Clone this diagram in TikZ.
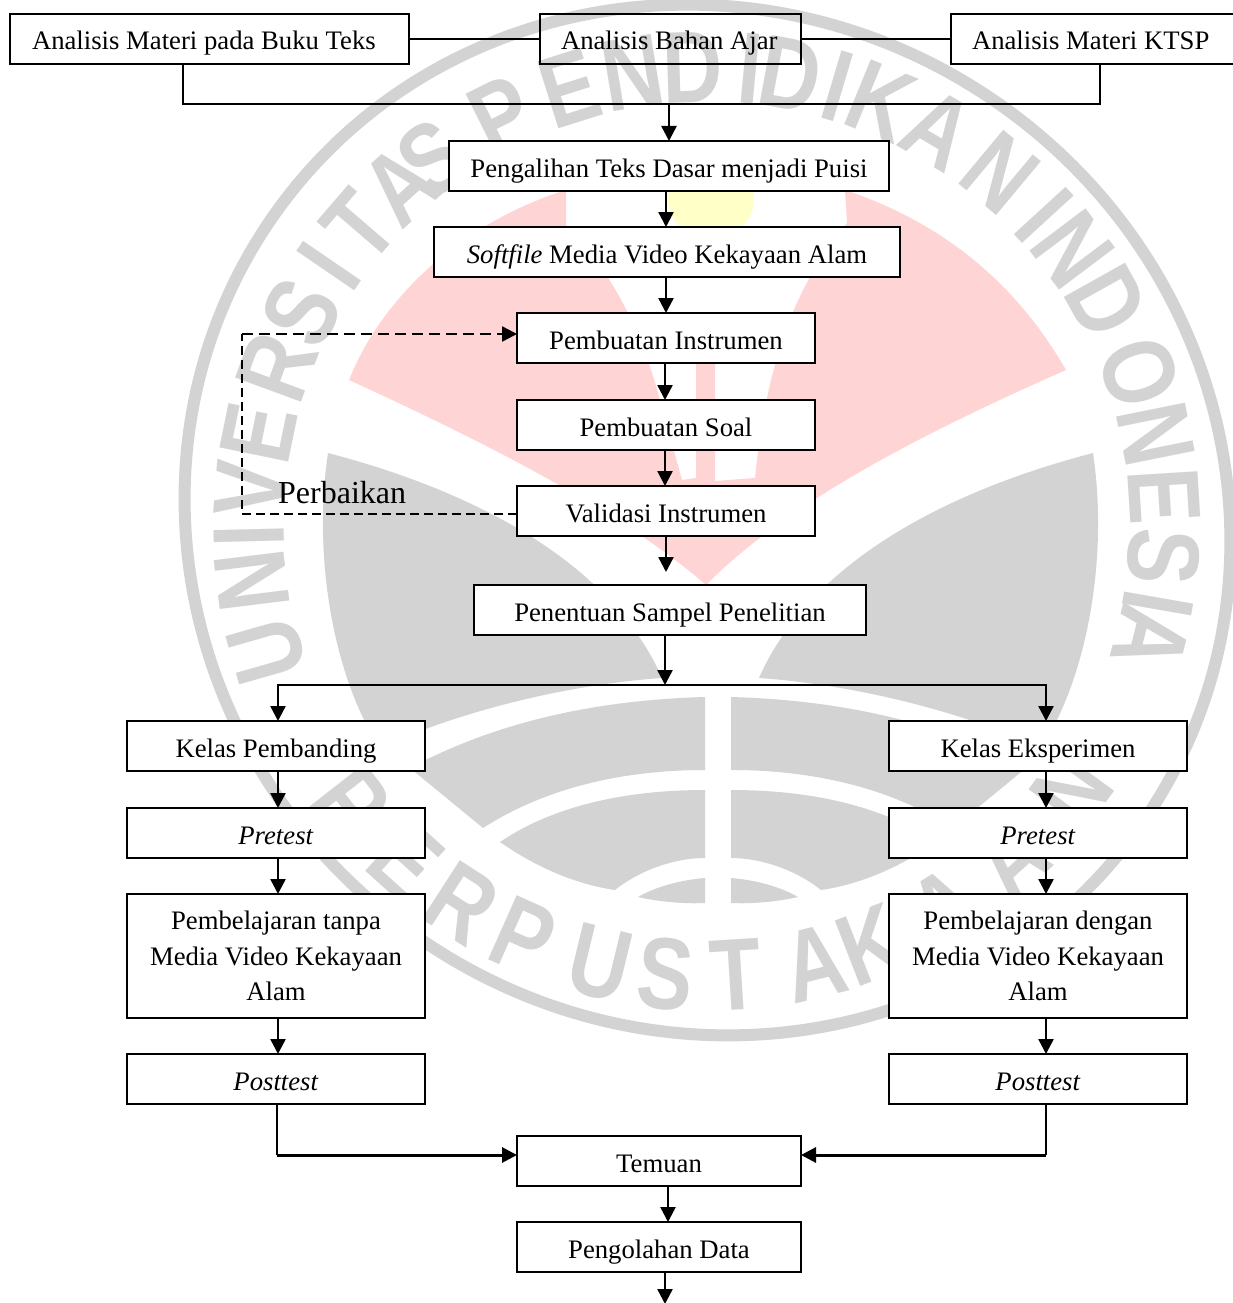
\documentclass[tikz,border=0pt]{standalone}
\usepackage{fontspec}
\usepackage{tikz}
\usetikzlibrary{positioning, arrows, arrows.meta}
\setmainfont{Liberation Serif}
\newfontfamily\wmfont[FakeStretch=0.82]{Liberation Sans}
\newcommand{\boxfont}{\fontsize{26.7}{35.5}\selectfont}

% logo outlines
\newcommand{\leafpath}{(328,453) .. controls (470,490) and (610,560) .. (662,678) .. controls (560,685) and (450,715) .. (380,748) .. controls (335,680) and (312,560) .. (328,453) -- cycle}
\newcommand{\tierA}{(705,697) .. controls (600,700) and (500,720) .. (410,768) -- (483,828) .. controls (550,785) and (630,770) .. (705,770) -- cycle}
\newcommand{\tierB}{(705,790) .. controls (620,790) and (550,808) .. (500,842) .. controls (540,870) and (580,885) .. (615,890) .. controls (640,870) and (675,858) .. (705,858) -- cycle}
\newcommand{\tierC}{(705,878) .. controls (680,880) and (655,887) .. (638,897) .. controls (660,902) and (685,904) .. (705,903) -- cycle}

\definecolor{wmgray}{HTML}{D3D3D3}
\definecolor{wmpink}{HTML}{FFD4D4}
\definecolor{wmyellow}{HTML}{FFFFC8}

\tikzset{
	kotak/.style={draw, fill=white, line width=2pt, inner sep=0pt, outer sep=0pt, font=\boxfont},
	box/.style={kotak, text height=36pt, text depth=14pt},
	sidebox/.style={box, minimum width=298pt},
	bigbox/.style={kotak, minimum width=298pt, minimum height=124pt, align=center},
	conn/.style={line width=2.4pt},
	arr/.style={conn, -{Triangle[length=15pt,width=15pt]}},
	wmletter/.style={text=wmgray, inner sep=0pt, font=\wmfont\bfseries\fontsize{102}{102}\selectfont}
}

\begin{document}
\begin{tikzpicture}[x=1pt, y=-1pt, node distance=36pt]
	\useasboundingbox (0,0) rectangle (1232,1303);

	% Logo
	\fill[wmyellow] (711,200) ellipse [x radius=43, y radius=38];
	\fill[wmpink] (566,190) .. controls (470,220) and (385,290) .. (349,380)
		.. controls (480,440) and (620,510) .. (706,585)
		.. controls (790,500) and (930,430) .. (1066,370)
		.. controls (1020,290) and (950,225) .. (845,190)
		-- (847,223) .. controls (810,270) and (770,330) .. (755,478)
		-- (715,481) -- (715,350) -- (696,350) -- (696,478) -- (682,480)
		-- (660,400) .. controls (645,345) and (620,280) .. (566,225) -- cycle;
	\fill[wmgray] \leafpath;
	\fill[wmgray, xscale=-1, xshift=-1421pt] \leafpath;
	\foreach \tier in {\tierA, \tierB, \tierC} {
		\fill[wmgray] \tier;
		\fill[wmgray, xscale=-1, xshift=-1436pt] \tier;
	}
	\draw[wmgray, line width=12pt, rotate around={-35:(707.5,520)}] (707.5,520) ellipse [x radius=530pt, y radius=508pt];
	\begin{scope}[shift={(707,525)}]
		\foreach \ch/\ang [count=\i] in {U/195.9, N/187, I/181.4, V/175.5, E/168.4, R/159.8, S/152.3, I/145.6, T/139.3, A/132.1, S/126.8,
			P/116.6, E/107.5, N/99.4, D/91.8, I/84.6, D/79.5, I/73.4, K/67.7, A/59.6, N/50.2,
			I/42.5, N/37, D/29.2, O/19.4, N/11.4, E/3.6, S/-4, I/-9.9, A/-14.3}
			\node[wmletter, rotate=\ang-90] (atas\i) at (\ang:458pt) {\ch};
		\foreach \ch/\ang [count=\i] in {P/-142, E/-132, R/-122.9, P/-114, U/-103.7, S/-95.3, T/-86.4, A/-76.2, K/-68.7, A/-58, A/-47.7, N/-36}
			\node[wmletter, rotate=\ang+90] (bawah\i) at (\ang:451pt) {\ch};
	\end{scope}

	% Nodes
	\node (bukuteks) [box, minimum width=399pt] at (209.5,39) {\makebox[355pt][l]{Analisis Materi pada Buku Teks}};
	\node (bahanajar) [box, minimum width=261pt, fill=none] at (670.5,39) {\makebox[219pt][l]{Analisis Bahan Ajar}};
	\node (ktsp) [box, minimum width=285pt] at (1093.5,39) {\makebox[243pt][l]{Analisis Materi KTSP}};
	\node (pengalihan) [box, minimum width=440pt] at (669,166) {Pengalihan Teks Dasar menjadi Puisi};
	\node (softfile) [box, minimum width=466pt] at (667,252) {\textit{Softfile} Media Video Kekayaan Alam};
	\node (instrumen) [box, minimum width=298pt] at (666,338) {Pembuatan Instrumen};
	\node (soal) [box, minimum width=298pt, below=37pt of instrumen] {Pembuatan Soal};
	\node (validasi) [box, minimum width=298pt, below=of soal] {Validasi Instrumen};
	\node (sampel) [box, minimum width=392pt] at (670,610) {Penentuan Sampel Penelitian};
	\node (perbaikan) [anchor=base west, inner sep=0pt, font=\fontsize{32}{32}\selectfont] at (278,503) {Perbaikan};

	\node (kelaskiri) [sidebox] at (276,746) {Kelas Pembanding};
	\node (pretestkiri) [sidebox, below=37pt of kelaskiri] {\textit{Pretest}};
	\node (ajarkiri) [bigbox, below=of pretestkiri] {Pembelajaran tanpa\\Media Video Kekayaan\\Alam};
	\node (posttestkiri) [sidebox, below=of ajarkiri] {\textit{Posttest}};

	\node (kelaskanan) [sidebox] at (1038,746) {Kelas Eksperimen};
	\node (pretestkanan) [sidebox, below=37pt of kelaskanan] {\textit{Pretest}};
	\node (ajarkanan) [bigbox, below=of pretestkanan] {Pembelajaran dengan\\Media Video Kekayaan\\Alam};
	\node (posttestkanan) [sidebox, below=of ajarkanan] {\textit{Posttest}};

	\node (temuan) [box, minimum width=284pt] at (659,1161) {Temuan};
	\node (olah) [box, minimum width=284pt, below=of temuan] {Pengolahan Data};

	\coordinate (kumpul) at (669,104);
	\coordinate (pisah) at (665,685);
	\coordinate (ujungsampel) at (666,572);
	\coordinate (akhir) at (665,1304);
	\coordinate (belokbawah) at (242,514);
	\coordinate (belokatas) at (242,334);
	\coordinate (sudutkiri) at (277,1155);
	\coordinate (sudutkanan) at (1046,1155);

	% Arrows
	\draw[line width=2pt] (bukuteks.east) -- (bahanajar.west);
	\draw[line width=2pt] (bahanajar.east) -- (ktsp.west);
	\draw[line width=2pt] ([xshift=-26.5pt]bukuteks.south) |- (kumpul) -| ([xshift=6.5pt]ktsp.south);
	\draw[arr] (kumpul) -- (pengalihan.north);
	\draw[arr] ([xshift=-3pt]pengalihan.south) -- ([xshift=-1pt]softfile.north);
	\draw[arr] ([xshift=-1pt]softfile.south) -- (instrumen.north);
	\draw[arr] ([xshift=-1pt]instrumen.south) -- ([xshift=-1pt]soal.north);
	\draw[arr] ([xshift=-1pt]soal.south) -- ([xshift=-1pt]validasi.north);
	\draw[arr] (validasi.south) -- (ujungsampel);
	\draw[arr] ([xshift=-5pt]sampel.south) -- (pisah);
	\draw[arr] (pisah) -| ([xshift=2pt]kelaskiri.north);
	\draw[arr] (pisah) -| ([xshift=8pt]kelaskanan.north);
	\foreach \side/\off in {kiri/2, kanan/8} {
		\draw[arr] ([xshift=\off pt]kelas\side.south) -- ([xshift=\off pt]pretest\side.north);
		\draw[arr] ([xshift=\off pt]pretest\side.south) -- ([xshift=\off pt]ajar\side.north);
		\draw[arr] ([xshift=\off pt]ajar\side.south) -- ([xshift=\off pt]posttest\side.north);
	}
	\draw[line width=2pt] ([xshift=1pt]posttestkiri.south) -- (sudutkiri);
	\draw[arr, line width=3pt] (sudutkiri) -- ([yshift=6pt]temuan.west);
	\draw[line width=2pt] ([xshift=8pt]posttestkanan.south) -- (sudutkanan);
	\draw[arr, line width=3pt] (sudutkanan) -- ([yshift=6pt]temuan.east);
	\draw[arr] ([xshift=9pt]temuan.south) -- ([xshift=9pt]olah.north);
	\draw[arr] ([xshift=6pt]olah.south) -- (akhir);

	% Perbaikan loop
	\draw[line width=2pt, dash pattern=on 9pt off 5pt] ([yshift=-3pt]validasi.west) -- (belokbawah) -- (belokatas);
	\draw[line width=2.5pt, dash pattern=on 11pt off 6pt, -{Triangle[length=15pt,width=15pt]}] (belokatas) -- ([yshift=4pt]instrumen.west);
\end{tikzpicture}
\end{document}
